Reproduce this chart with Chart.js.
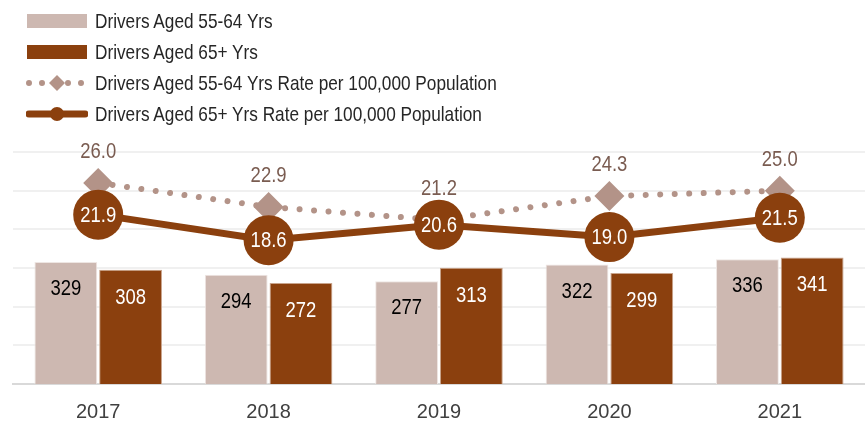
<!DOCTYPE html>
<html>
<head>
<meta charset="utf-8">
<script src="https://cdn.jsdelivr.net/npm/chart.js@4"></script>
<style>
    html, body { margin: 0; padding: 0; background: #fff; }
    #wrap { position: relative; width: 865px; height: 422px; }
    #legend { position: absolute; left: 26px; top: 5px; font-family: 'Liberation Sans', Arial, sans-serif; font-size: 21px; color: #262626; }
    .item { display: flex; align-items: center; height: 31px; white-space: nowrap; }
    .item svg { margin-right: 7px; }
    .item span { display: inline-block; transform: scaleX(0.82); transform-origin: left center; }
</style>
</head>
<body>
<div id="wrap">
    <canvas id="chart" width="865" height="422"></canvas>
    <div id="legend"></div>
</div>
<script>
const years = ['2017', '2018', '2019', '2020', '2021'];
const drivers5564 = [329, 294, 277, 322, 336];
const drivers65 = [308, 272, 313, 299, 341];
const rate5564 = [26.0, 22.9, 21.2, 24.3, 25.0];
const rate65 = [21.9, 18.6, 20.6, 19.0, 21.5];
const labels = [
    'Drivers Aged 55-64 Yrs',
    'Drivers Aged 65+ Yrs',
    'Drivers Aged 55-64 Yrs Rate per 100,000 Population',
    'Drivers Aged 65+ Yrs Rate per 100,000 Population'
];

const LIGHT = '#CDB8B1';
const DARK = '#8B400E';
const DIAMOND = '#B39388';
const FONT = "'Liberation Sans', Arial, sans-serif";

// legend in html
const markers = [
    `<svg width="62" height="16"><rect x="1" y="1" width="60" height="14" fill="${LIGHT}"/></svg>`,
    `<svg width="62" height="16"><rect x="1" y="1" width="60" height="14" fill="${DARK}"/></svg>`,
    `<svg width="62" height="16"><line x1="3" y1="8" x2="60" y2="8" stroke="${DIAMOND}" stroke-width="6" stroke-linecap="round" stroke-dasharray="0 13"/><path d="M31 0 L39 8 L31 16 L23 8 Z" fill="${DIAMOND}"/></svg>`,
    `<svg width="62" height="16"><line x1="3" y1="8" x2="59" y2="8" stroke="${DARK}" stroke-width="7" stroke-linecap="round"/><circle cx="31" cy="8" r="7" fill="${DARK}"/></svg>`
];
document.getElementById('legend').innerHTML = labels.map((l, i) => `
    <div class="item">${markers[i]}<span>${l}</span></div>
`).join('');

function narrowText(ctx, text, x, y) {
    ctx.save();
    ctx.translate(x, y);
    ctx.scale(0.84, 1);
    ctx.fillText(text, 0, 0);
    ctx.restore();
}

// etiquetas de datos
const valueLabels = {
    id: 'valueLabels',
    afterDatasetsDraw(chart) {
        const ctx = chart.ctx;
        ctx.save();
        ctx.font = `22px ${FONT}`;
        ctx.textAlign = 'center';
        ctx.textBaseline = 'middle';
        chart.data.datasets.forEach((ds, di) => {
            const meta = chart.getDatasetMeta(di);
            meta.data.forEach((el, i) => {
                const v = ds.data[i];
                if (di === 0) {
                    ctx.fillStyle = '#000';
                    narrowText(ctx, v, el.x, el.y + 27);
                } else if (di === 1) {
                    ctx.fillStyle = '#fff';
                    narrowText(ctx, v, el.x, el.y + 28);
                } else if (di === 2) {
                    ctx.fillStyle = '#7A5C51';
                    narrowText(ctx, v.toFixed(1), el.x, el.y - 31);
                } else {
                    ctx.fillStyle = '#fff';
                    narrowText(ctx, v.toFixed(1), el.x, el.y + 1);
                }
            });
        });
        ctx.restore();
    }
};

new Chart(document.getElementById('chart'), {
    type: 'bar',
    data: {
        labels: years,
        datasets: [{
            label: labels[0],
            data: drivers5564,
            backgroundColor: LIGHT,
            borderColor: '#EEE6E3',
            borderWidth: 1,
            yAxisID: 'y',
            order: 2,
            barPercentage: 0.97,
            categoryPercentage: 0.76
        }, {
            label: labels[1],
            data: drivers65,
            backgroundColor: DARK,
            borderColor: '#C9A48C',
            borderWidth: 1,
            yAxisID: 'y',
            order: 3,
            barPercentage: 0.97,
            categoryPercentage: 0.76
        }, {
            type: 'line',
            label: labels[2],
            data: rate5564,
            borderColor: DIAMOND,
            borderWidth: 6,
            borderDash: [0.01, 14.5],
            borderCapStyle: 'round',
            pointStyle: 'rectRot',
            pointRadius: 15,
            pointBackgroundColor: DIAMOND,
            pointBorderColor: DIAMOND,
            pointBorderWidth: 0,
            yAxisID: 'y1',
            order: 1
        }, {
            type: 'line',
            label: labels[3],
            data: rate65,
            borderColor: DARK,
            borderWidth: 7,
            pointRadius: 25,
            pointBackgroundColor: DARK,
            pointBorderColor: DARK,
            pointBorderWidth: 0,
            yAxisID: 'y1',
            order: 0
        }]
    },
    options: {
        responsive: false,
        animation: false,
        layout: { autoPadding: false, padding: { left: 13, right: 0, top: 152, bottom: 0 } },
        plugins: {
            legend: { display: false },
            tooltip: { enabled: false }
        },
        scales: {
            x: {
                grid: { display: false },
                border: { color: '#D9D9D9', width: 2 },
                ticks: { color: '#404040', font: { family: FONT, size: 20 }, padding: 8 },
                afterFit: s => { s.height = 38; }
            },
            y: {
                display: false,
                min: 0,
                max: 625
            },
            y1: {
                position: 'right',
                min: 0,
                max: 30,
                ticks: { display: false, stepSize: 5 },
                border: { display: false },
                grid: {
                    drawTicks: false,
                    lineWidth: 2,
                    color: c => c.tick.value === 0 ? 'rgba(0,0,0,0)' : '#F0F0F0'
                }
            }
        }
    },
    plugins: [valueLabels]
});
</script>
</body>
</html>
